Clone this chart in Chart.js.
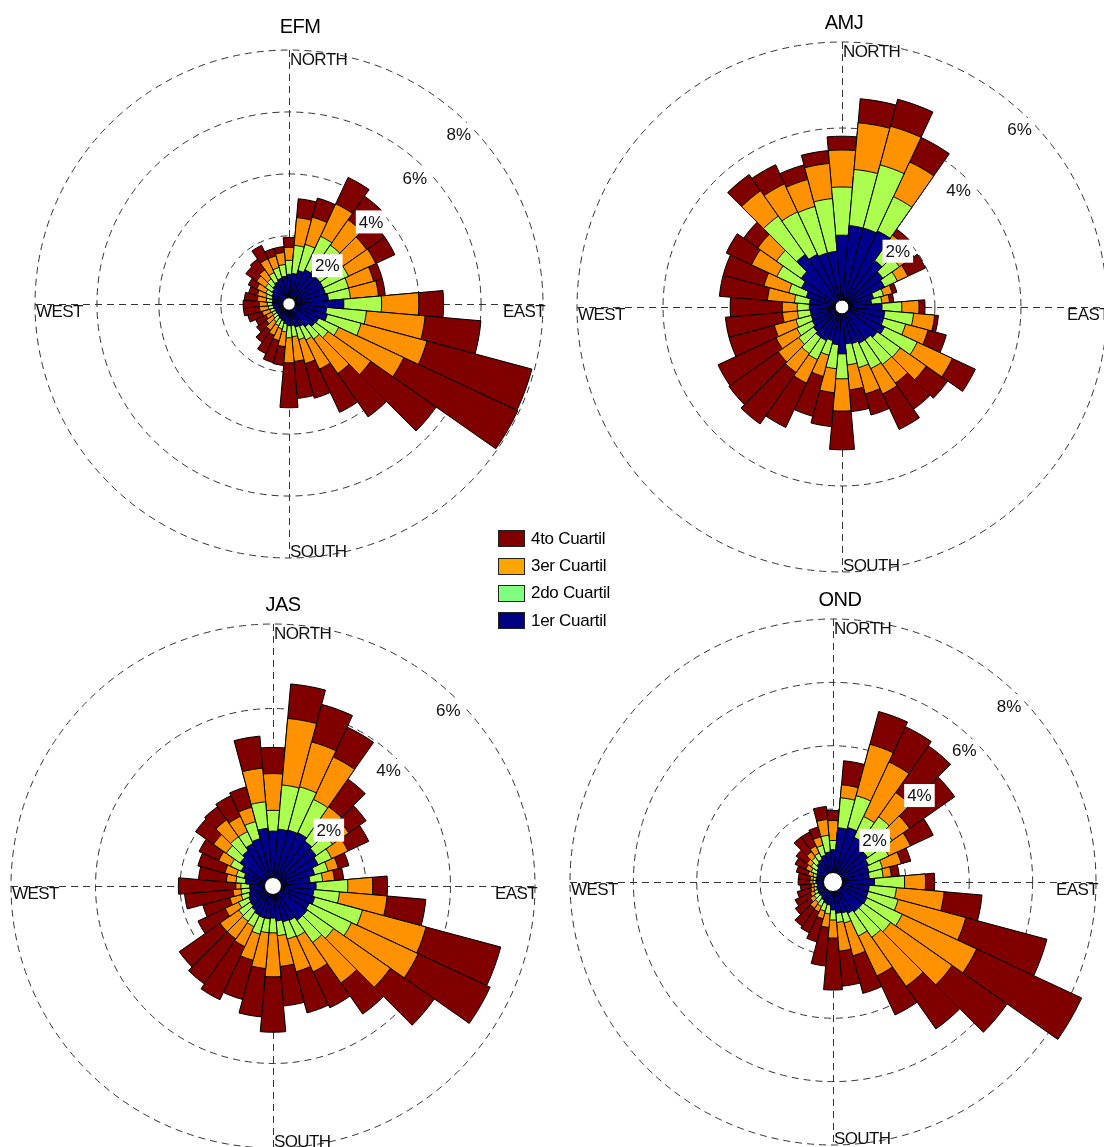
<!DOCTYPE html>
<html>
<head>
<meta charset="utf-8">
<script src="https://cdn.jsdelivr.net/npm/chart.js@4.4.1/dist/chart.umd.min.js"></script>
<style>
    body { margin: 0; width: 1104px; height: 1147px; overflow: hidden; background: #fff; position: relative;
           font-family: "Liberation Sans", Arial, sans-serif; color: #000; }
    canvas { position: absolute; }
    .title { position: absolute; font-size: 20px; transform: translate(-50%, -50%); white-space: nowrap; letter-spacing: -0.5px; }
    #legend { position: absolute; left: 498px; top: 525px; }
    .item { height: 27.4px; display: flex; align-items: center; font-size: 17px; letter-spacing: -0.3px; }
    .box { width: 27px; height: 17px; border: 1px solid #222; box-sizing: border-box; margin-right: 6px; }
</style>
</head>
<body>
<canvas id="efm" width="600" height="600"></canvas>
<canvas id="amj" width="600" height="600"></canvas>
<canvas id="jas" width="600" height="600"></canvas>
<canvas id="ond" width="600" height="600"></canvas>
<div id="titles"></div>
<div id="legend"></div>
<script>
"use strict";

// Wind direction of each sector (degrees, clockwise from north)
const directions = [0, 10, 20, 30, 40, 50, 60, 70, 80, 90, 100, 110, 120, 130, 140, 150, 160, 170,
                    180, 190, 200, 210, 220, 230, 240, 250, 260, 270, 280, 290, 300, 310, 320, 330, 340, 350];
const quartileNames = ["1er Cuartil", "2do Cuartil", "3er Cuartil", "4to Cuartil"];
const compassNames = ["NORTH", "EAST", "SOUTH", "WEST"];

// Frequency (%) of each quartile per direction
const efmQ1 = [.76, .79, .92, 1.02, 1.02, 1.02, 1.02, 1.02, 1.08, 1.57, 1.02, 1.08, .86, .83, .70, .60, .57, .50, .50, .44, .37, .34, .31, .28, .28, .28, .31, .34, .34, .37, .41, .47, .54, .60, .66, .70];
const efmQ2 = [.45, .91, .87, 1.19, 1.10, .90, .90, .77, .71, 1.22, 1.29, 1.13, .71, .51, .48, .48, .42, .36, .39, .26, .26, .23, .19, .16, .13, .16, .16, .16, .20, .20, .22, .26, .25, .32, .36, .38];
const efmQ3 = [.42, .90, .91, 1.16, 1.00, .94, .97, .84, .91, 1.20, 1.90, 2.20, 2.32, 1.68, 1.36, 1.04, .80, .80, .81, .48, .39, .35, .33, .26, .22, .26, .29, .26, .29, .29, .32, .35, .36, .49, .39, .39];
const efmQ4 = [.32, .61, .64, .94, .93, .71, .68, .29, .22, .80, 1.81, 3.51, 4.06, 2.58, 1.71, 1.54, 1.16, 1.20, 1.45, .61, .74, .65, .48, .38, .36, .48, .52, .52, .42, .29, .30, .42, .42, .48, .25, .19];

const amjQ1 = [1.51, 1.74, 1.74, 1.79, 1.16, 1.00, .93, .60, .53, .77, .84, .84, .93, .84, .77, .77, .72, .70, .93, .72, .65, .70, .70, .65, .60, .58, .58, .60, .60, .70, .88, 1.00, 1.33, 1.19, 1.14, 1.14];
const amjQ2 = [1.12, 1.31, 1.52, .88, .54, .47, .33, .24, .24, .46, .67, .53, .84, .65, .70, .65, .58, .49, .58, .56, .35, .49, .46, .42, .40, .37, .30, .28, .35, .42, .63, .70, 1.09, 1.09, 1.12, 1.23];
const amjQ3 = [.86, 1.09, .93, .89, .18, .23, .27, .21, .18, .40, .49, .54, .90, .74, .53, .65, .63, .58, .75, .56, .51, .60, .54, .58, .53, .52, .35, .35, .63, .60, .65, .53, .72, .72, .65, .82];
const amjQ4 = [.32, .56, .65, .63, .17, .18, .45, .11, .10, .14, .09, .44, .59, .61, .74, .91, .51, .51, .90, .79, .96, 1.14, 1.46, 1.40, 1.49, 1.09, 1.33, 1.21, 1.12, .98, .65, .40, .46, .49, .35, .30];

const jasQ1 = [1.10, 1.15, 1.17, 1.19, 1.10, 1.05, .98, .82, .68, .82, .77, .82, .75, .79, .79, .70, .68, .63, .56, .58, .58, .56, .51, .46, .44, .39, .35, .35, .46, .51, .63, .75, .82, .91, .96, 1.17];
const jasQ2 = [.49, 1.05, 1.06, .87, .42, .47, .35, .33, .30, .75, .61, 1.17, 1.10, .76, .64, .42, .42, .35, .35, .33, .40, .30, .31, .33, .26, .19, .21, .21, .22, .19, .28, .40, .40, .31, .42, .63];
const jasQ3 = [.87, 1.58, 1.10, 1.11, .57, .47, .43, .25, .28, .59, 1.13, 1.56, 1.74, 1.64, 1.17, .92, .80, .73, 1.04, .85, .64, .52, .51, .54, .35, .28, .19, .12, .23, .28, .31, .37, .49, .40, .35, .80];
const jasQ4 = [.62, .82, .92, .78, .80, .50, .54, .26, .22, .35, .92, 1.83, 1.88, 1.27, .90, .94, 1.01, .94, 1.31, 1.15, .96, 1.39, 1.30, 1.18, .71, .66, 1.15, 1.36, .66, .66, .51, .52, .38, .54, .50, .76];

const ondQ1 = [.72, 1.42, 1.48, 1.26, 1.16, 1.04, .94, .88, .85, 1.01, .85, .85, .88, .85, .85, .79, .72, .69, .58, .43, .40, .33, .27, .27, .24, .24, .20, .24, .24, .24, .27, .33, .43, .49, .58, .65];
const ondQ2 = [.29, .95, 1.04, .72, 1.05, .94, .70, .44, .44, .95, .86, .98, 1.23, 1.07, .98, .79, .32, .29, .32, .28, .25, .22, .22, .16, .12, .09, .10, .09, .09, .12, .19, .22, .22, .22, .32, .53];
const ondQ3 = [.63, .41, 1.68, 1.90, .94, .67, .76, .61, .26, .66, 1.51, 2.21, 2.59, 2.37, 1.89, 1.39, 1.07, .91, .57, .43, .25, .19, .22, .15, .13, .10, .09, .10, .10, .16, .19, .16, .22, .25, .28, .50];
const ondQ4 = [.32, .76, 1.07, 1.23, 1.80, 1.74, .79, .31, .25, .29, 1.20, 2.65, 3.66, 2.12, 1.64, 1.36, 1.23, 1.11, 1.64, 1.22, .76, .73, .69, .57, .53, .44, .35, .37, .37, .38, .37, .41, .57, .48, .32, .41];

// Radial tick labels of each rose
const efmTicks = [2, 4, 6, 8];
const amjTicks = [2, 4, 6];
const jasTicks = [2, 4, 6];
const ondTicks = [2, 4, 6, 8];

const roseColors = ["#00008c", "#adff4f", "#ff9200", "#800000"];
const legendColors = ["#000080", "#80ff80", "#ffa500", "#800000"];

const panels = [
    { id: "efm", title: "EFM", q: [efmQ1, efmQ2, efmQ3, efmQ4], ticks: efmTicks, min: -0.2, cx: 289, cy: 304, R: 254, tx: 300, ty: 26 },
    { id: "amj", title: "AMJ", q: [amjQ1, amjQ2, amjQ3, amjQ4], ticks: amjTicks, min: -0.16, cx: 842, cy: 307, R: 265, tx: 844, ty: 22 },
    { id: "jas", title: "JAS", q: [jasQ1, jasQ2, jasQ3, jasQ4], ticks: jasTicks, min: -0.2, cx: 273, cy: 886, R: 262, tx: 283, ty: 604 },
    { id: "ond", title: "OND", q: [ondQ1, ondQ2, ondQ3, ondQ4], ticks: ondTicks, min: -0.3, cx: 833, cy: 882, R: 263, tx: 840, ty: 599 }
];

const FONT = '"Liberation Sans", Arial, sans-serif';
const DASH = [7, 5];

// dashed cross, centre hole, % labels and compass names
const roseDecor = {
    id: "roseDecor",
    beforeDatasetsDraw(chart) {
        let s = chart.scales.r;
        let ctx = chart.ctx;
        let R = s.drawingArea;
        ctx.save();
        ctx.strokeStyle = "#333";
        ctx.lineWidth = 1;
        ctx.setLineDash(DASH);
        ctx.beginPath();
        ctx.moveTo(s.xCenter + 0.5, s.yCenter - R);
        ctx.lineTo(s.xCenter + 0.5, s.yCenter + R);
        ctx.moveTo(s.xCenter - R, s.yCenter + 0.5);
        ctx.lineTo(s.xCenter + R, s.yCenter + 0.5);
        ctx.stroke();
        ctx.restore();
    },
    afterDatasetsDraw(chart) {
        let s = chart.scales.r;
        let ctx = chart.ctx;
        let cx = s.xCenter, cy = s.yCenter, R = s.drawingArea;
        ctx.save();

        // white hole at the centre
        ctx.beginPath();
        ctx.arc(cx, cy, s.getDistanceFromCenterForValue(0), 0, Math.PI * 2);
        ctx.fillStyle = "#fff";
        ctx.fill();
        ctx.strokeStyle = "#000";
        ctx.lineWidth = 1;
        ctx.stroke();

        // percentage labels along the NE diagonal
        ctx.font = "17px " + FONT;
        ctx.textAlign = "center";
        ctx.textBaseline = "middle";
        s.ticks.forEach(t => {
            let d = s.getDistanceFromCenterForValue(t.value) - 14;
            let x = cx + d * Math.SQRT1_2;
            let y = cy - d * Math.SQRT1_2;
            let label = t.value + "%";
            let w = ctx.measureText(label).width;
            ctx.fillStyle = "#fff";
            ctx.fillRect(x - w / 2 - 3, y - 11.5, w + 6, 23);
            ctx.fillStyle = "#111";
            ctx.fillText(label, x, y + 1);
        });

        // compass names
        ctx.font = "17px " + FONT;
        if ("letterSpacing" in ctx) ctx.letterSpacing = "-0.6px";
        ctx.fillStyle = "#111";
        ctx.textAlign = "left";
        ctx.textBaseline = "top";
        ctx.fillText(compassNames[0], cx + 1, cy - R + 2);
        ctx.fillText(compassNames[3], cx - R + 1, cy);
        ctx.textAlign = "right";
        ctx.fillText(compassNames[1], cx + R + 2, cy);
        ctx.textAlign = "left";
        ctx.textBaseline = "alphabetic";
        ctx.fillText(compassNames[2], cx + 1, cy + R - 1);
        ctx.restore();
    }
};

function cumulative(qs) {
    let out = [];
    let run = qs[0].map(() => 0);
    qs.forEach(q => {
        run = run.map((v, i) => v + q[i]);
        out.push(run.slice());
    });
    return out;
}

function drawRose(p) {
    let canvas = document.getElementById(p.id);
    canvas.style.left = (p.cx - 300) + "px";
    canvas.style.top = (p.cy - 300) + "px";

    // stacked bars: cumulative totals, first dataset is drawn on top
    let stacks = cumulative(p.q);
    let datasets = stacks.map((data, j) => ({
        label: quartileNames[j],
        data: data,
        backgroundColor: roseColors[j],
        borderColor: "#000",
        borderWidth: 1
    }));

    let maxTick = p.ticks[p.ticks.length - 1];
    new Chart(canvas.getContext("2d"), {
        type: "polarArea",
        data: { labels: directions, datasets: datasets },
        options: {
            responsive: false,
            animation: false,
            layout: { padding: 300 - p.R },
            plugins: { legend: { display: false }, tooltip: { enabled: false } },
            scales: {
                r: {
                    min: p.min,
                    max: maxTick,
                    startAngle: -5,
                    afterBuildTicks: s => { s.ticks = p.ticks.map(v => ({ value: v })); },
                    ticks: { display: false },
                    grid: { circular: true, color: "#333", lineWidth: 1 },
                    border: { dash: DASH },
                    angleLines: { display: false },
                    pointLabels: { display: false }
                }
            }
        },
        plugins: [roseDecor]
    });

    let t = document.createElement("div");
    t.className = "title";
    t.style.left = p.tx + "px";
    t.style.top = p.ty + "px";
    t.textContent = p.title;
    document.getElementById("titles").appendChild(t);
}

panels.forEach(drawRose);

// legend, top entry is the 4th quartile
let legend = "";
for (let j = 3; j >= 0; j--) {
    legend += `<div class="item"><span class="box" style="background:${legendColors[j]}"></span>${quartileNames[j]}</div>`;
}
document.getElementById("legend").innerHTML = legend;
</script>
</body>
</html>
